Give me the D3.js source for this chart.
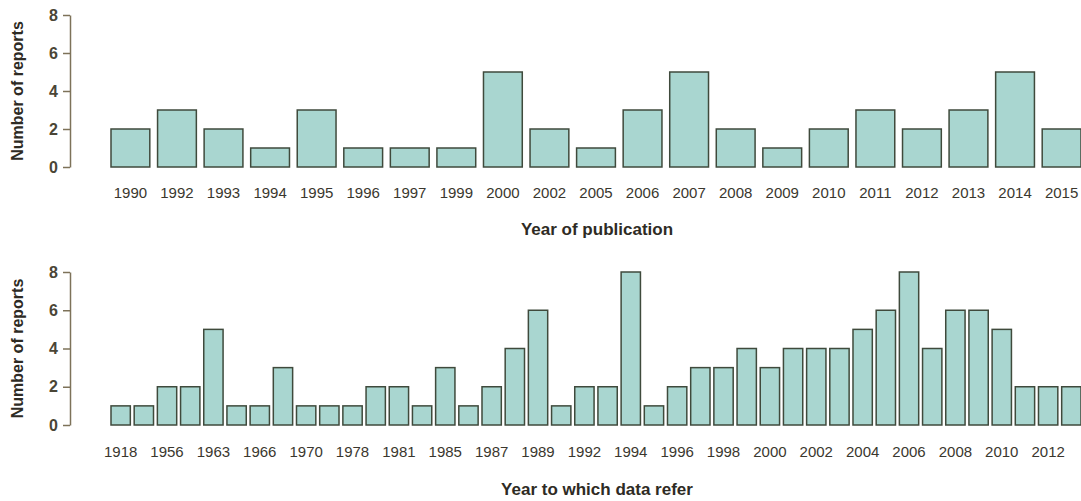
<!DOCTYPE html>
<html><head><meta charset="utf-8">
<script src="https://cdn.jsdelivr.net/npm/d3@7"></script>
<style>body{margin:0;background:#fff}svg{display:block}</style>
</head><body>
<script>
// Top chart: year of publication
const pubYears = ["1990","1992","1993","1994","1995","1996","1997","1999","2000","2002","2005","2006","2007","2008","2009","2010","2011","2012","2013","2014","2015"];
const pubCounts = [2,3,2,1,3,1,1,1,5,2,1,3,5,2,1,2,3,2,3,5,2];

// Bottom chart: year to which data refer
const dataYears = ["1918","1955","1956","1962","1963","1964","1966","1968","1970","1975","1978","1980","1981","1983","1985","1986","1987","1988","1989","1990","1992","1993","1994","1995","1996","1997","1998","1999","2000","2001","2002","2003","2004","2005","2006","2007","2008","2009","2010","2011","2012","2013"];
const dataCounts = [1,1,2,2,5,1,1,3,1,1,1,2,2,1,3,1,2,4,6,1,2,2,8,1,2,3,3,4,3,4,4,4,5,6,8,4,6,6,5,2,2,2];
// shown tick labels (R drops overlapping ones)
const dataTickLabels = dataYears.map((y,i)=> i%2===0 ? y : "");

const yTicks = [0,2,4,6,8];

const W=1081,H=501;
const svg=d3.select("body").append("svg").attr("width",W).attr("height",H);
const FONT="Liberation Sans, Arial, sans-serif";

function panel(cats, vals, labels, cfg){
  const x=d3.scaleBand().domain(cats).range([111,1081]).paddingInner(0.1667).paddingOuter(0);
  const y=d3.scaleLinear().domain([0,8]).range([cfg.y0,cfg.y8]);
  const g=svg.append("g");
  g.selectAll("rect").data(cats).join("rect")
    .attr("x",d=>x(d)).attr("width",x.bandwidth())
    .attr("y",(d,i)=>y(vals[i])).attr("height",(d,i)=>y(0)-y(vals[i]))
    .attr("fill","#a9d6d0").attr("stroke","#3f4a3c").attr("stroke-width",1.5);
  const ya=g.append("g").attr("transform","translate(70,0)")
    .call(d3.axisLeft(y).tickValues(yTicks).tickSize(7).tickSizeOuter(0).tickPadding(5));
  ya.select(".domain").attr("stroke","#7d7259").attr("stroke-width",1.5);
  ya.selectAll(".tick line").attr("stroke","#7d7259").attr("stroke-width",1.5);
  ya.selectAll("text").attr("font-family",FONT)
    .attr("font-size",16).attr("font-weight","bold").attr("fill","#4a4536");
  const xa=g.append("g").attr("transform",`translate(0,${cfg.y0})`)
    .call(d3.axisBottom(x).tickSize(0).tickPadding(cfg.labelPad).tickFormat((d,i)=>labels[i]));
  xa.select(".domain").remove();
  xa.selectAll("text").attr("font-family",FONT)
    .attr("font-size",15).attr("fill","#3a372e");
  g.append("text").attr("x",597).attr("y",cfg.titleY).attr("text-anchor","middle")
    .attr("font-family",FONT).attr("font-size",17)
    .attr("font-weight","bold").attr("fill","#2e2b24").text(cfg.title);
  g.append("text").attr("transform",`translate(23,${(cfg.y0+cfg.y8)/2}) rotate(-90)`)
    .attr("text-anchor","middle")
    .attr("font-family",FONT).attr("font-size",16)
    .attr("font-weight","bold").attr("fill","#2e2b24").text("Number of reports");
}

panel(pubYears,pubCounts,pubYears,{y0:167,y8:15,labelPad:20,titleY:235,title:"Year of publication"});
panel(dataYears,dataCounts,dataTickLabels,{y0:425,y8:272,labelPad:21,titleY:495,title:"Year to which data refer"});
</script>
</body></html>
